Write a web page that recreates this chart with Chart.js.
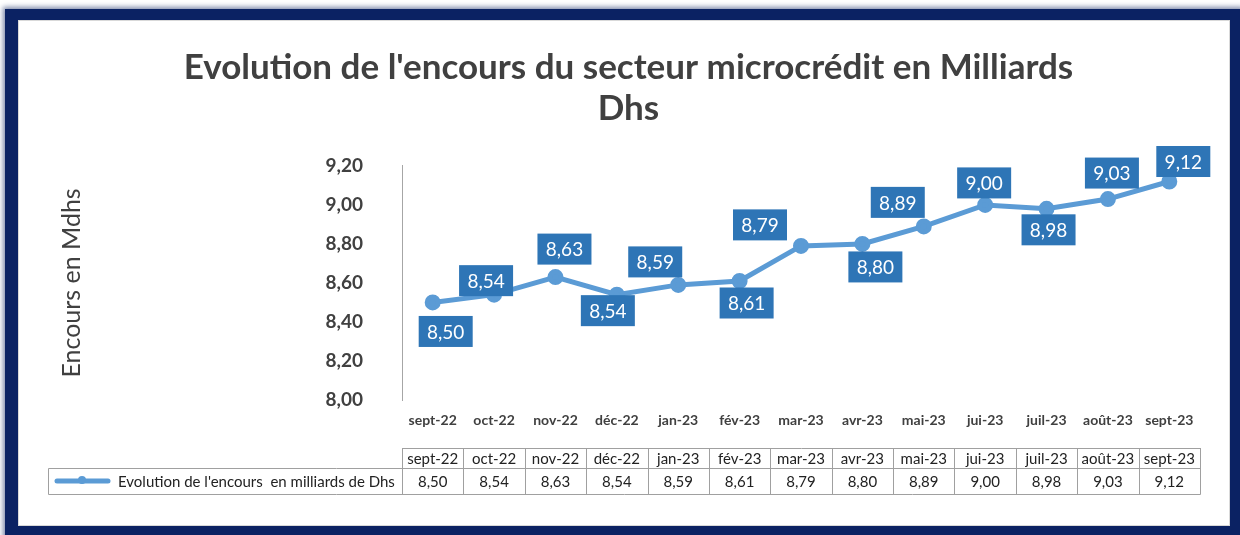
<!DOCTYPE html>
<html>
<head>
<meta charset="utf-8">
<script src="https://cdn.jsdelivr.net/npm/chart.js@4.4.1/dist/chart.umd.min.js"></script>
<style>
  html, body { margin: 0; padding: 0; background: #fff; }
  body { width: 1240px; height: 535px; position: relative; overflow: hidden; }
  #frame {
    position: absolute; left: 5px; top: 9px; width: 1237px; height: 531px;
    box-sizing: border-box; border-style: solid; border-color: #0b2263;
    border-width: 11px 12px 14px 13px; background: #fff;
    box-shadow: 0 0 5px 2px rgba(20, 40, 100, 0.55), inset 0 0 0 1px #d9d9d9;
  }
  #wrap { position: absolute; left: 0; top: 0; width: 1240px; height: 535px; }
</style>
</head>
<body>
<div id="frame"></div>
<div id="wrap"><canvas id="chart"></canvas></div>
<script>
// data
const months = ['sept-22', 'oct-22', 'nov-22', 'déc-22', 'jan-23', 'fév-23', 'mar-23',
  'avr-23', 'mai-23', 'jui-23', 'juil-23', 'août-23', 'sept-23'];
const encours = [8.50, 8.54, 8.63, 8.54, 8.59, 8.61, 8.79, 8.80, 8.89, 9.00, 8.98, 9.03, 9.12];
const yTicks = [8.00, 8.20, 8.40, 8.60, 8.80, 9.00, 9.20];
const seriesName = "Evolution de l'encours  en milliards de Dhs";

// where each value box sits relative to its point (px)
const labelOffsets = [[13, 29], [-8, -14], [9, -28], [-9, 16], [-23, -23], [7, 22], [-41, -21],
  [13, 23], [-26, -24], [-1, -22], [2, 21], [4, -26], [14, -20]];

const fmt = v => v.toFixed(2).replace('.', ',');
const lineColor = '#5b9bd5';
const textColor = '#404040';

// value boxes on the line
const valueBoxes = {
  id: 'valueBoxes',
  afterDatasetsDraw(chart) {
    const ctx = chart.ctx;
    const pts = chart.getDatasetMeta(0).data;
    ctx.save();
    ctx.font = '19px Lato';
    ctx.textAlign = 'center';
    ctx.textBaseline = 'middle';
    pts.forEach((p, i) => {
      const cx = p.x + labelOffsets[i][0];
      const cy = p.y + labelOffsets[i][1];
      ctx.fillStyle = '#2e75b6';
      ctx.fillRect(cx - 27, cy - 15.5, 54, 31);
      ctx.fillStyle = '#fff';
      ctx.fillText(fmt(encours[i]), cx, cy + 1);
    });
    ctx.restore();
  }
};

// data table under the axis
const dataTable = {
  id: 'dataTable',
  afterDraw(chart) {
    const ctx = chart.ctx;
    const x = chart.scales.x;
    const area = chart.chartArea;
    const step = (area.right - area.left) / months.length;
    const top = area.bottom + 48, mid = area.bottom + 68, bot = area.bottom + 94;
    const legendLeft = 48;
    ctx.save();
    ctx.strokeStyle = '#a0a0a0';
    ctx.lineWidth = 1;
    ctx.beginPath();
    ctx.rect(area.left + 0.5, top + 0.5, area.right - area.left, mid - top);
    ctx.rect(legendLeft + 0.5, mid + 0.5, area.right - legendLeft, bot - mid);
    for (let i = 0; i <= months.length; i++) {
      const xx = Math.round(area.left + i * step) + 0.5;
      ctx.moveTo(xx, top); ctx.lineTo(xx, bot);
    }
    ctx.stroke();
    ctx.fillStyle = '#222';
    ctx.font = '15px Lato';
    ctx.textAlign = 'center';
    ctx.textBaseline = 'middle';
    months.forEach((m, i) => {
      const cx = x.getPixelForValue(i);
      ctx.fillText(m, cx, (top + mid) / 2 + 1);
      ctx.fillText(fmt(encours[i]), cx, (mid + bot) / 2 + 1);
    });
    // legend key
    const ly = (mid + bot) / 2;
    ctx.strokeStyle = lineColor;
    ctx.lineWidth = 5;
    ctx.lineCap = 'round';
    ctx.beginPath();
    ctx.moveTo(57, ly); ctx.lineTo(108, ly);
    ctx.stroke();
    ctx.fillStyle = lineColor;
    ctx.beginPath();
    ctx.arc(82, ly - 1, 4, 0, Math.PI * 2);
    ctx.fill();
    ctx.fillStyle = '#222';
    ctx.textAlign = 'left';
    ctx.fillText(seriesName, 118, ly + 1);
    ctx.restore();
  }
};

new Chart(document.getElementById('chart'), {
  type: 'line',
  data: {
    labels: months,
    datasets: [{
      label: seriesName,
      data: encours,
      borderColor: lineColor,
      backgroundColor: lineColor,
      borderWidth: 5,
      pointRadius: 5.5,
      pointHoverRadius: 5.5,
      tension: 0
    }]
  },
  options: {
    responsive: true,
    maintainAspectRatio: false,
    animation: false,
    layout: { padding: { left: 57, right: 40, top: 0, bottom: 0 } },
    plugins: {
      legend: { display: false },
      tooltip: { enabled: false },
      title: {
        display: true,
        text: ["Evolution de l'encours du secteur microcrédit en Milliards", 'Dhs'],
        color: textColor,
        font: { family: 'Lato', size: 35, weight: 'bold', lineHeight: 1.17 },
        padding: { top: 47, bottom: 37 }
      }
    },
    scales: {
      x: {
        offset: true,
        grid: { display: false, drawTicks: false },
        border: { display: false },
        ticks: { color: textColor, font: { family: 'Lato', size: 14, weight: 'bold' }, padding: 12, maxRotation: 0, autoSkip: false },
        afterFit(s) { s.height = 135; }
      },
      y: {
        min: 8, max: 9.2,
        grid: { display: false, drawTicks: false },
        border: { display: true, color: '#a6a6a6', width: 1 },
        afterBuildTicks(s) { s.ticks = yTicks.map(v => ({ value: v })); },
        ticks: { color: textColor, font: { family: 'Lato', size: 19, weight: 'bold' }, padding: 39, callback: v => fmt(v) },
        title: { display: true, text: 'Encours en Mdhs', color: textColor, font: { family: 'Lato', size: 25 }, padding: 0 },
        afterFit(s) { s.width = 345; }
      }
    }
  },
  plugins: [valueBoxes, dataTable]
});
</script>
</body>
</html>
